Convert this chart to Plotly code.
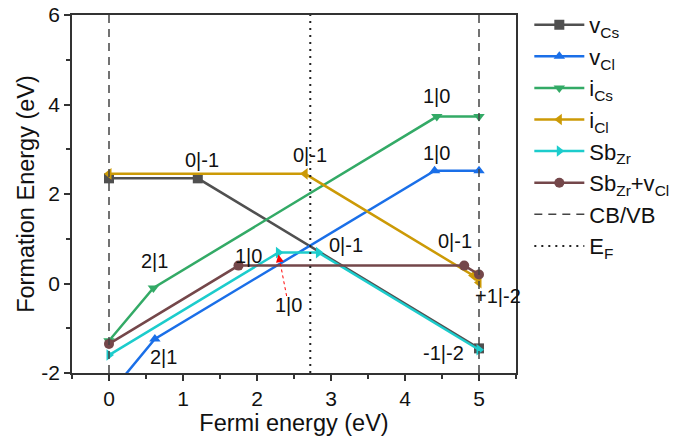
import plotly.graph_objects as go

# ---- data ----
vcs_x = [0, 1.2, 5]
vcs_y = [2.35, 2.35, -1.45]
vcl_x = [0, 0.62, 4.4, 5]
vcl_y = [-2.48, -1.24, 2.52, 2.52]
ics_x = [0, 0.6, 4.43, 5]
ics_y = [-1.28, -0.1, 3.73, 3.73]
icl_x = [0, 2.65, 4.92, 5]
icl_y = [2.45, 2.45, 0.18, 0.02]
sbzr_x = [0, 2.29, 2.83, 5]
sbzr_y = [-1.6, 0.69, 0.69, -1.48]
sbvcl_x = [0, 1.75, 4.8, 5]
sbvcl_y = [-1.35, 0.4, 0.4, 0.2]
band_edges = [0, 5]
fermi_level = 2.72
y_span = [-2, 6]

labels_text = ["0|-1", "0|-1", "2|1", "1|0", "1|0", "2|1", "0|-1", "1|0", "1|0", "0|-1", "+1|-2", "-1|-2"]
labels_x = [1.26, 2.72, 0.62, 1.88, 2.42, 0.73, 3.2, 4.42, 4.42, 4.68, 5.26, 4.52]
labels_y = [2.76, 2.87, 0.5, 0.62, -0.48, -1.65, 0.85, 4.19, 2.91, 0.96, -0.29, -1.55]

x_ticks = [0, 1, 2, 3, 4, 5]
y_ticks = [-2, 0, 2, 4, 6]

series = [
    ("v<sub>Cs</sub>", vcs_x, vcs_y, "#505050", "square"),
    ("v<sub>Cl</sub>", vcl_x, vcl_y, "#1A6FE8", "triangle-up"),
    ("i<sub>Cs</sub>", ics_x, ics_y, "#33AA66", "triangle-down"),
    ("i<sub>Cl</sub>", icl_x, icl_y, "#CC9A06", "triangle-left"),
    ("Sb<sub>Zr</sub>", sbzr_x, sbzr_y, "#1CCCCC", "triangle-right"),
    ("Sb<sub>Zr</sub>+v<sub>Cl</sub>", sbvcl_x, sbvcl_y, "#74474A", "circle"),
]

fig = go.Figure()
for name, xs, ys, col, sym in series:
    fig.add_trace(go.Scatter(x=xs, y=ys, mode="lines+markers", name=name,
                             line=dict(color=col, width=2.5),
                             marker=dict(symbol=sym, size=10, color=col)))

vx, vy = [], []
for e in band_edges:
    vx += [e, e, None]
    vy += [y_span[0], y_span[1], None]
fig.add_trace(go.Scatter(x=vx, y=vy, mode="lines", name="CB/VB",
                         line=dict(color="#444444", width=1.5, dash="8px,6px")))
fig.add_trace(go.Scatter(x=[fermi_level, fermi_level], y=y_span, mode="lines",
                         name="E<sub>F</sub>",
                         line=dict(color="#222222", width=2, dash="2px,5px")))

for t, x, y in zip(labels_text, labels_x, labels_y):
    fig.add_annotation(x=x, y=y, text=t, showarrow=False,
                       font=dict(size=20, color="#111111"))

# red dashed pointer to the Sb_Zr 1|0 transition
fig.add_shape(type="line", x0=2.4, y0=-0.28, x1=sbzr_x[1] + 0.015, y1=sbzr_y[1] - 0.15,
              line=dict(color="red", width=1, dash="3px,3px"))
fig.add_annotation(x=sbzr_x[1], y=sbzr_y[1] - 0.04, ax=sbzr_x[1] + 0.02, ay=sbzr_y[1] - 0.22,
                   axref="x", ayref="y", xref="x", yref="y", text="",
                   showarrow=True, arrowhead=2, arrowsize=1.3, arrowwidth=1.2,
                   arrowcolor="red")

axis_common = dict(showline=True, linecolor="#333333", linewidth=1.5, mirror=True,
                   ticks="outside", ticklen=6, tickwidth=1.5, tickcolor="#333333",
                   showgrid=False, zeroline=False, automargin=False,
                   tickfont=dict(size=21, color="#111111"))
fig.update_xaxes(range=[-0.5, 5.5], tickvals=x_ticks,
                 ticktext=[str(v) for v in x_ticks],
                 minor=dict(dtick=0.5, ticks="outside", ticklen=4, tickcolor="#333333"),
                 title=dict(text="Fermi energy (eV)", font=dict(size=23.5, color="#111111"), standoff=4),
                 **axis_common)
fig.update_yaxes(range=[-2, 6], tickvals=y_ticks,
                 ticktext=[str(v) for v in y_ticks],
                 minor=dict(dtick=1, ticks="outside", ticklen=4, tickcolor="#333333"),
                 title=dict(text="Formation Energy (eV)", font=dict(size=23.5, color="#111111"), standoff=0),
                 **axis_common)

fig.update_layout(width=691, height=441, plot_bgcolor="white", paper_bgcolor="white",
                  margin=dict(l=72, r=175, t=15, b=68, autoexpand=False),
                  font=dict(family="Liberation Sans, Arial, sans-serif", color="#111111"),
                  legend=dict(x=1.03, y=1.031, xanchor="left", yanchor="top",
                              font=dict(size=22), bgcolor="rgba(0,0,0,0)",
                              itemwidth=50, tracegroupgap=0, maxheight=420))
fig.write_html("out.html")
